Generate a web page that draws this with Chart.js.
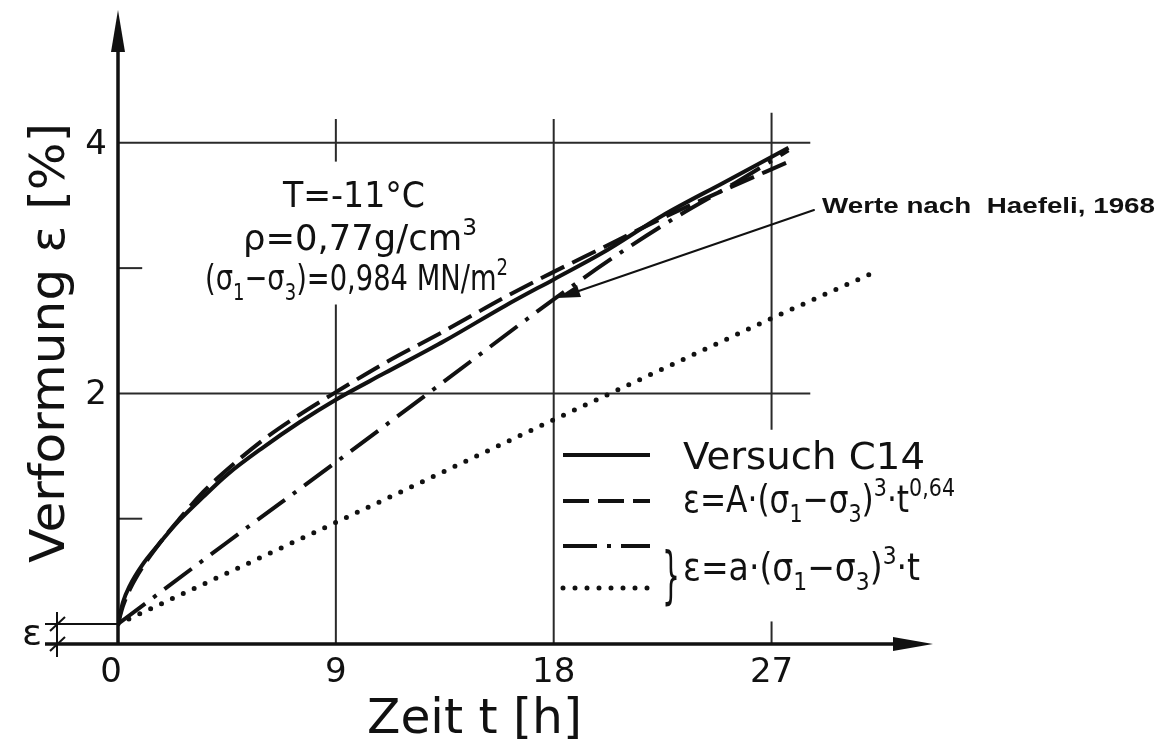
<!DOCTYPE html>
<html lang="de">
<head>
    <meta charset="UTF-8">
    <title>Verformung Zeit Haefeli</title>
    <script src="https://cdn.jsdelivr.net/npm/chart.js@4"></script>
    <style>
        body {
            margin: 0;
            background-color: #fff;
        }
        #box {
            width: 1166px;
            height: 743px;
        }
    </style>
</head>
<body>
    <div id="box">
        <canvas id="creepChart" width="1166" height="743"></canvas>
    </div>
    <script>
        // Versuch C14 (measured curve)
        const testHours = [0, 0.2, 0.5, 1, 1.7, 2.5, 3.5, 4.5, 6, 7.5, 9, 11, 13.5, 16, 18, 20, 22.5, 25, 27.7];
        const testStrain = [0.16, 0.33, 0.47, 0.63, 0.80, 0.98, 1.17, 1.35, 1.57, 1.77, 1.95, 2.16, 2.42, 2.70, 2.91, 3.12, 3.42, 3.68, 3.96];

        // eps = A (s1-s3)^3 t^0.64
        const powHours = [0, 0.2, 0.5, 1, 1.7, 2.5, 3.5, 4.5, 6, 7.5, 9, 11, 13.5, 16, 18, 20, 22.5, 25, 27.6];
        const powStrain = [0.16, 0.30, 0.44, 0.61, 0.80, 0.99, 1.21, 1.39, 1.63, 1.83, 2.01, 2.24, 2.50, 2.77, 2.97, 3.16, 3.40, 3.62, 3.84];

        // eps = a (s1-s3)^3 t, Werte nach Haefeli 1968 (dash-dot)
        const haefeliHours = [0, 4.5, 9, 13.5, 18, 20.5, 23, 25.5, 27.7];
        const haefeliStrain = [0.16, 0.81, 1.45, 2.10, 2.75, 3.09, 3.40, 3.68, 3.94];

        // eps = a (s1-s3)^3 t (dotted)
        const linHours = [0, 9, 18, 27, 31.4];
        const linStrain = [0.16, 0.97, 1.79, 2.60, 2.98];

        const xTicks = [0, 9, 18, 27];
        const yTicks = [2, 4];
        const yMinorTicks = [1, 3];
        const eps0 = 0.16;

        const xTitle = 'Zeit t [h]';
        const yTitle = 'Verformung ε [%]';
        const noteText = 'Werte nach  Haefeli, 1968';

        const ink = '#111';
        const face = '"DejaVu Sans", sans-serif';

        function pts(xs, ys) {
            return xs.map((x, i) => ({ x: x, y: ys[i] }));
        }

        // draw text squeezed/stretched to a given width
        function fitText(ctx, str, x, y, w, size, weight, family) {
            ctx.save();
            ctx.font = (weight || '') + ' ' + size + 'px ' + (family || face);
            const m = ctx.measureText(str).width;
            ctx.translate(x, y);
            ctx.scale(w / m, 1);
            ctx.textAlign = 'left';
            ctx.textBaseline = 'alphabetic';
            ctx.fillText(str, 0, 0);
            ctx.restore();
        }

        // text with sub/superscripts: parts = [[text, kind], ...]
        function richText(ctx, parts, x, y, w, size) {
            ctx.save();
            const small = size * 0.66;
            let total = 0;
            parts.forEach(p => {
                ctx.font = (p[1] ? small : size) + 'px ' + face;
                total += ctx.measureText(p[0]).width;
            });
            ctx.translate(x, y);
            ctx.scale(w / total, 1);
            ctx.textAlign = 'left';
            ctx.textBaseline = 'alphabetic';
            let cx = 0;
            parts.forEach(p => {
                ctx.font = (p[1] ? small : size) + 'px ' + face;
                let dy = 0;
                if (p[1] === 'sub') dy = size * 0.28;
                if (p[1] === 'sup') dy = -size * 0.42;
                ctx.fillText(p[0], cx, dy);
                cx += ctx.measureText(p[0]).width;
            });
            ctx.restore();
        }

        function seg(ctx, x1, y1, x2, y2, width) {
            ctx.lineWidth = width;
            ctx.beginPath();
            ctx.moveTo(x1, y1);
            ctx.lineTo(x2, y2);
            ctx.stroke();
        }

        const paperPlugin = {
            id: 'paper',
            beforeDatasetsDraw(chart) {
                const ctx = chart.ctx;
                const xs = chart.scales.x, ys = chart.scales.y;
                const px = v => xs.getPixelForValue(v);
                const py = v => ys.getPixelForValue(v);
                ctx.save();
                ctx.strokeStyle = '#2a2a2a';
                ctx.lineCap = 'butt';

                // horizontal grid lines
                yTicks.forEach(v => seg(ctx, px(0), py(v), px(28.6), py(v), 2));
                // vertical grid lines (broken where text / legend sits)
                seg(ctx, px(9), py(4.19), px(9), py(3.85), 2);
                seg(ctx, px(9), py(2.71), px(9), py(0), 2);
                seg(ctx, px(18), py(4.19), px(18), py(0), 2);
                seg(ctx, px(27), py(4.24), px(27), py(1.71), 2);
                seg(ctx, px(27), py(0.18), px(27), py(0), 2);
                // minor ticks on y axis
                yMinorTicks.forEach(v => seg(ctx, px(0), py(v), px(1), py(v), 2));

                // axes
                ctx.strokeStyle = ink;
                ctx.fillStyle = ink;
                seg(ctx, px(0), py(0), px(0), 40, 3.5);
                seg(ctx, 45, py(0), 900, py(0), 3.5);
                ctx.beginPath();
                ctx.moveTo(px(0), 10);
                ctx.lineTo(px(0) - 7, 52);
                ctx.lineTo(px(0) + 7, 52);
                ctx.closePath();
                ctx.fill();
                ctx.beginPath();
                ctx.moveTo(933, py(0));
                ctx.lineTo(893, py(0) - 7);
                ctx.lineTo(893, py(0) + 7);
                ctx.closePath();
                ctx.fill();

                // eps0 dimension marker
                seg(ctx, 45, py(eps0), px(0), py(eps0), 2);
                seg(ctx, 57, py(eps0) - 12, 57, py(0) + 13, 2);
                seg(ctx, 50, py(eps0) + 7, 65, py(eps0) - 7, 2);
                seg(ctx, 50, py(0) + 7, 65, py(0) - 7, 2);
                fitText(ctx, 'ε', 22, py(0) + 1, 20, 36);

                // tick labels
                ctx.font = '34px ' + face;
                ctx.textAlign = 'center';
                ctx.textBaseline = 'alphabetic';
                xTicks.forEach(v => ctx.fillText(String(v), px(v) - (v === 0 ? 7 : 0), 682));
                ctx.textBaseline = 'middle';
                yTicks.forEach(v => ctx.fillText(String(v), 96, py(v) + 2));

                // axis titles
                fitText(ctx, xTitle, 367, 733, 215, 48);
                ctx.save();
                ctx.translate(64, 563);
                ctx.rotate(-Math.PI / 2);
                fitText(ctx, yTitle, 0, 0, 440, 48);
                ctx.restore();

                // test conditions
                fitText(ctx, 'T=-11°C', 283, 207, 142, 36);
                richText(ctx, [['ρ=0,77g/cm', ''], ['3', 'sup']], 243, 250, 234, 36);
                richText(ctx, [['(σ', ''], ['1', 'sub'], ['−σ', ''], ['3', 'sub'], [')=0,984 MN/m', ''], ['2', 'sup']], 205, 290, 303, 36);
                ctx.restore();
            },
            afterDatasetsDraw(chart) {
                const ctx = chart.ctx;
                const sets = chart.data.datasets;
                ctx.save();
                ctx.fillStyle = ink;
                // legend samples
                const rows = [455, 501, 546, 588];
                sets.forEach((ds, i) => {
                    ctx.strokeStyle = ink;
                    ctx.lineWidth = ds.borderWidth;
                    ctx.lineCap = ds.borderCapStyle || 'butt';
                    ctx.setLineDash(ds.borderDash || []);
                    ctx.beginPath();
                    ctx.moveTo(563, rows[i]);
                    ctx.lineTo(650, rows[i]);
                    ctx.stroke();
                });
                ctx.setLineDash([]);
                fitText(ctx, sets[0].label, 683, 469, 242, 37);
                richText(ctx, [['ε=A·(σ', ''], ['1', 'sub'], ['−σ', ''], ['3', 'sub'], [')', ''], ['3', 'sup'], ['·t', ''], ['0,64', 'sup']], 683, 512, 272, 37);
                fitText(ctx, '}', 662, 596, 18, 62);
                richText(ctx, [['ε=a·(σ', ''], ['1', 'sub'], ['−σ', ''], ['3', 'sub'], [')', ''], ['3', 'sup'], ['·t', '']], 683, 580, 237, 37);

                // annotation with arrow
                fitText(ctx, noteText, 822, 213, 333, 22, 'bold', '"Liberation Sans", Arial, sans-serif');
                ctx.strokeStyle = ink;
                seg(ctx, 814, 210, 570, 294, 2);
                ctx.beginPath();
                ctx.moveTo(557, 298);
                ctx.lineTo(577, 285);
                ctx.lineTo(581, 297);
                ctx.closePath();
                ctx.fill();
                ctx.restore();
            }
        };

        const ctx = document.getElementById('creepChart').getContext('2d');
        const chart = new Chart(ctx, {
            type: 'line',
            data: {
                datasets: [
                    {
                        label: 'Versuch C14',
                        data: pts(testHours, testStrain),
                        borderColor: ink,
                        borderWidth: 4,
                        cubicInterpolationMode: 'monotone'
                    },
                    {
                        label: 'eps = A (s1-s3)^3 t^0.64',
                        data: pts(powHours, powStrain),
                        borderColor: ink,
                        borderWidth: 4,
                        borderDash: [26, 9],
                        cubicInterpolationMode: 'monotone'
                    },
                    {
                        label: 'Haefeli 1968',
                        data: pts(haefeliHours, haefeliStrain),
                        borderColor: ink,
                        borderWidth: 4,
                        borderDash: [34, 10, 4, 10],
                        cubicInterpolationMode: 'monotone'
                    },
                    {
                        label: 'eps = a (s1-s3)^3 t',
                        data: pts(linHours, linStrain),
                        borderColor: ink,
                        borderWidth: 5,
                        borderDash: [0, 12],
                        borderCapStyle: 'round'
                    }
                ]
            },
            options: {
                responsive: false,
                animation: false,
                layout: {
                    padding: { left: 118, right: 225, top: 5, bottom: 99 }
                },
                elements: {
                    point: { radius: 0 }
                },
                scales: {
                    x: { type: 'linear', min: 0, max: 34, display: false },
                    y: { type: 'linear', min: 0, max: 5.1, display: false }
                },
                plugins: {
                    legend: { display: false },
                    tooltip: { enabled: false }
                }
            },
            plugins: [paperPlugin]
        });
    </script>
</body>
</html>
